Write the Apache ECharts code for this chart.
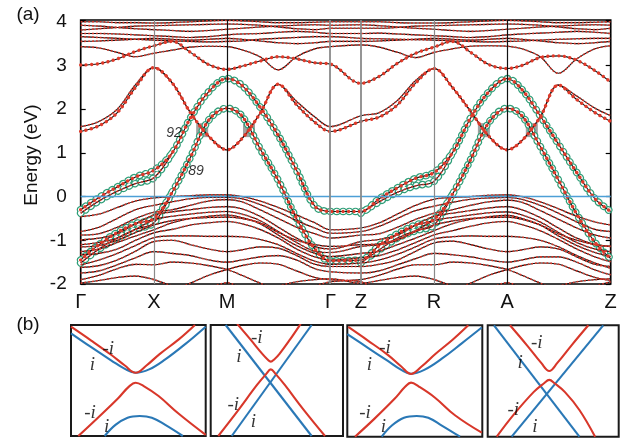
<!DOCTYPE html>
<html>
<head>
<meta charset="utf-8">
<script src="https://cdn.jsdelivr.net/npm/echarts@6/dist/echarts.min.js"></script>
<style>
  html, body { margin: 0; padding: 0; background: #fff; }
  #c { width: 638px; height: 443px; }
</style>
</head>
<body>
<div id="c"></div>
<script>
// ---- k-path: high-symmetry points (cumulative path length, units of 2pi/a) ----
const kLabels = ['Γ', 'X', 'M', 'Γ', 'Z', 'R', 'A', 'Z'];
const kTicks  = [0, 1, 2, 3.414, 3.829, 4.829, 5.829, 7.243];

// k positions at which band energies (eV) are tabulated
const kGrid = [0, 0.25, 0.5, 0.75, 1, 1.25, 1.5, 1.75, 2, 2.2, 2.45, 2.7, 2.95, 3.2, 3.414,
               3.829, 4.079, 4.329, 4.579, 4.829, 5.079, 5.329, 5.579, 5.829, 6.029, 6.279, 6.529, 6.779, 7.029, 7.243];

// ---- upper conduction bands ----
const cbTop1 = [4.0,4.0,3.98,3.98,3.97,3.98,4.0,4.02,4.03,4.02,4.0,3.98,3.98,3.99,4.0, 4.0,4.0,3.98,3.97,3.97,3.98,4.0,4.02,4.03,4.02,4.0,3.98,3.98,3.99,4.0];
const cbTop2 = [3.92,3.9,3.87,3.84,3.82,3.8,3.78,3.8,3.83,3.85,3.88,3.9,3.92,3.93,3.92, 3.93,3.91,3.88,3.85,3.83,3.8,3.78,3.8,3.83,3.85,3.88,3.9,3.92,3.93,3.92];
const cbTop3 = [3.81,3.84,3.87,3.9,3.91,3.92,3.93,3.94,3.95,3.94,3.92,3.88,3.84,3.82,3.85, 3.85,3.85,3.87,3.9,3.91,3.92,3.93,3.94,3.95,3.94,3.92,3.88,3.84,3.82,3.85];
const cbTop4 = [3.73,3.73,3.72,3.7,3.68,3.66,3.64,3.66,3.7,3.72,3.73,3.76,3.78,3.76,3.73, 3.73,3.74,3.72,3.7,3.68,3.66,3.64,3.66,3.7,3.72,3.74,3.76,3.78,3.76,3.73];
const cbTop5 = [3.66,3.64,3.62,3.6,3.58,3.56,3.55,3.54,3.55,3.56,3.6,3.62,3.64,3.66,3.66, 3.62,3.61,3.6,3.59,3.58,3.56,3.55,3.54,3.55,3.56,3.58,3.6,3.61,3.62,3.62];
const cbTop6 = [3.55,3.56,3.58,3.6,3.62,3.6,3.58,3.6,3.62,3.6,3.56,3.52,3.5,3.52,3.55, 3.55,3.56,3.58,3.6,3.62,3.6,3.58,3.6,3.62,3.6,3.56,3.52,3.5,3.52,3.55];
const cbDip  = [3.43,3.4,3.3,3.2,3.28,3.35,3.42,3.44,3.43,3.36,3.2,2.9,3.2,3.38,3.43, 3.47,3.42,3.3,3.18,3.3,3.38,3.44,3.45,3.44,3.38,3.2,2.82,3.15,3.38,3.45];
const cbQ    = [3.01,3.04,3.15,3.32,3.45,3.55,3.3,3.02,2.91,2.98,3.1,3.2,3.15,3.06,3.03, 2.59,2.75,3.05,3.28,3.42,3.55,3.3,3.02,2.93,3.0,3.18,3.22,3.12,2.88,2.62];
const cbP1   = [1.49,1.62,1.92,2.5,2.95,2.6,1.92,1.38,1.07,1.32,1.9,2.57,2.1,1.7,1.49, 1.72,1.82,2.1,2.6,2.93,2.5,1.95,1.38,1.07,1.28,1.82,2.55,2.22,1.92,1.72];
const cbP2   = [1.6,1.72,2.0,2.56,2.95,2.6,1.92,1.38,1.07,1.32,1.9,2.57,2.18,1.82,1.6, 1.85,1.92,2.2,2.66,2.93,2.5,1.95,1.38,1.07,1.28,1.82,2.55,2.3,2.02,1.85];

// ---- projected bands 92 and 89 (and their partners) ----
const band92  = [-0.3,-0.02,0.22,0.45,0.6,1.0,1.8,2.4,2.7,2.55,2.05,1.4,0.6,-0.22,-0.34, -0.34,-0.05,0.2,0.42,0.55,1.0,1.8,2.4,2.7,2.45,1.85,1.2,0.55,-0.05,-0.34];
const band91  = [-0.38,-0.1,0.12,0.3,0.43,1.0,null,null,null,null,null,null,null,null,null, -0.38,-0.12,0.1,0.25,0.35,1.0,null,null,null,null,null,null,null,null,null];
const band89  = [-1.45,-1.1,-0.82,-0.62,-0.5,0.1,0.9,1.75,2.02,1.85,1.1,0.37,-0.5,-1.2,-1.47, -1.45,-1.12,-0.85,-0.65,-0.52,0.05,0.85,1.7,2.02,1.85,1.15,0.38,-0.4,-1.05,-1.42];
const band90  = [-1.52,-1.2,-0.95,-0.75,-0.6,0.1,null,null,null,null,null,null,null,null,null, -1.52,-1.22,-0.95,-0.78,-0.65,0.05,null,null,null,null,null,null,null,null,null];

// ---- valence bands ----
const vb1  = [-0.46,-0.4,-0.25,-0.1,-0.03,0.0,0.02,0.04,0.04,0.0,-0.1,-0.25,-0.42,-0.6,-0.76, -0.72,-0.6,-0.4,-0.2,-0.06,-0.02,0.0,0.03,0.04,0.0,-0.12,-0.28,-0.45,-0.58,-0.65];
const vb2  = [-0.8,-0.7,-0.5,-0.3,-0.2,-0.12,-0.05,-0.02,-0.02,-0.05,-0.18,-0.35,-0.55,-0.72,-0.84, -0.8,-0.68,-0.5,-0.32,-0.22,-0.13,-0.06,-0.03,-0.02,-0.06,-0.2,-0.38,-0.58,-0.75,-0.8];
const vb3  = [-0.88,-0.85,-0.7,-0.5,-0.36,-0.3,-0.2,-0.1,-0.07,-0.12,-0.3,-0.5,-0.7,-0.85,-0.95, -0.88,-0.85,-0.7,-0.52,-0.38,-0.3,-0.2,-0.12,-0.08,-0.13,-0.32,-0.52,-0.72,-0.88,-0.95];
const vb4  = [-0.99,-0.95,-0.85,-0.62,-0.42,-0.35,-0.3,-0.25,-0.23,-0.28,-0.45,-0.7,-0.95,-1.15,-1.2, -1.03,-0.98,-0.88,-0.65,-0.45,-0.38,-0.32,-0.26,-0.23,-0.3,-0.48,-0.72,-0.95,-1.1,-1.14];
const vb5  = [-1.1,-1.05,-0.95,-0.75,-0.53,-0.45,-0.4,-0.36,-0.34,-0.4,-0.55,-0.8,-1.05,-1.25,-1.28, -1.14,-1.1,-1.0,-0.78,-0.55,-0.48,-0.42,-0.37,-0.35,-0.42,-0.58,-0.82,-1.05,-1.2,-1.26];
const vb6  = [-1.26,-1.2,-1.05,-0.9,-0.76,-0.6,-0.5,-0.45,-0.42,-0.48,-0.62,-0.88,-1.12,-1.3,-1.37, -1.3,-1.25,-1.1,-0.95,-0.78,-0.62,-0.52,-0.46,-0.43,-0.5,-0.65,-0.9,-1.12,-1.28,-1.37];
const vb7  = [-1.15,-1.12,-1.0,-0.82,-0.65,-0.55,-0.5,-0.48,-0.47,-0.5,-0.6,-0.82,-1.0,-1.1,-1.14, -1.1,-1.08,-0.98,-0.8,-0.65,-0.56,-0.5,-0.48,-0.47,-0.52,-0.65,-0.85,-1.0,-1.1,-1.14];
const vb8  = [-1.33,-1.3,-1.2,-1.0,-0.83,-0.75,-0.65,-0.6,-0.57,-0.62,-0.75,-0.95,-1.2,-1.38,-1.45, -1.4,-1.35,-1.22,-1.05,-0.88,-0.78,-0.68,-0.6,-0.57,-0.64,-0.78,-0.98,-1.2,-1.38,-1.49];
const vb9  = [-1.56,-1.45,-1.3,-1.12,-0.94,-0.9,-0.9,-0.91,-0.91,-0.92,-0.98,-1.1,-1.3,-1.48,-1.55, -1.52,-1.45,-1.32,-1.15,-0.97,-0.92,-0.9,-0.91,-0.91,-0.93,-1.0,-1.15,-1.35,-1.52,-1.64];
const vb10 = [-1.62,-1.58,-1.45,-1.25,-1.03,-1.0,-1.1,-1.2,-1.26,-1.22,-1.15,-1.18,-1.35,-1.55,-1.6, -1.6,-1.55,-1.45,-1.25,-1.06,-1.02,-1.1,-1.2,-1.26,-1.22,-1.15,-1.2,-1.38,-1.55,-1.6];
const vb11 = [-1.75,-1.7,-1.56,-1.4,-1.26,-1.3,-1.35,-1.45,-1.5,-1.45,-1.38,-1.35,-1.45,-1.65,-1.72, -1.75,-1.7,-1.56,-1.42,-1.3,-1.33,-1.38,-1.45,-1.5,-1.45,-1.38,-1.38,-1.5,-1.68,-1.79];
const vb12 = [-1.9,-1.8,-1.65,-1.55,-1.56,-1.5,-1.52,-1.58,-1.67,-1.8,-1.98,-2.15,-2.2,-2.05,-1.95, -1.9,-1.8,-1.66,-1.56,-1.56,-1.5,-1.52,-1.58,-1.67,-1.8,-1.98,-2.15,-2.2,-2.05,-1.95];
const vb13 = [-2.3,-2.3,-2.25,-2.2,-2.2,-2.15,-1.98,-1.8,-1.67,-1.58,-1.52,-1.55,-1.7,-1.85,-1.9, -1.95,-2.2,-2.3,-2.3,-2.2,-2.15,-1.98,-1.8,-1.67,-1.58,-1.52,-1.55,-1.7,-1.85,-1.92];
const vb14 = [-1.98,-1.92,-1.85,-1.82,-1.9,-2.05,-2.2,-2.1,-1.97,-2.1,-2.2,-2.05,-1.95,-1.9,-1.88, -1.98,-1.92,-1.85,-1.82,-1.9,-2.05,-2.2,-2.1,-1.97,-2.1,-2.2,-2.05,-1.95,-1.9,-1.88];

// band crossings marked with grey squares: [k, E]
const crossings = [[1.66, 1.52], [2.30, 1.52], [5.51, 1.52], [6.165, 1.52]];
// band index labels: [k, E, text]
const bandTags = [[1.275, 1.456, '92'], [1.575, 0.576, '89']];

// ---- panel (b): schematic band pairs, local coords [u, v] in 0..1 ----
const p1RedUp  = [[0,0.985],[0.15,0.86],[0.3,0.73],[0.4,0.635],[0.48,0.57],[0.56,0.635],[0.66,0.74],[0.8,0.87],[0.92,1.0]];
const p1BlueUp = [[0,0.925],[0.15,0.8],[0.3,0.68],[0.4,0.605],[0.48,0.57],[0.58,0.6],[0.7,0.69],[0.85,0.83],[1,0.985]];
const p1RedLo  = [[0.054,0],[0.2,0.165],[0.35,0.34],[0.43,0.445],[0.48,0.48],[0.54,0.45],[0.65,0.36],[0.8,0.2],[1,0.01]];
const p1BlueLo = [[0.25,0],[0.33,0.1],[0.42,0.165],[0.51,0.18],[0.6,0.165],[0.7,0.1],[0.83,0]];

const p2Blue1  = [[0.113,1],[0.763,0]];
const p2Blue2  = [[0.159,0],[0.763,1]];
const p2RedUp  = [[0.2,1.01],[0.3,0.87],[0.39,0.74],[0.43,0.69],[0.454,0.67],[0.48,0.69],[0.52,0.74],[0.6,0.87],[0.68,1.01]];
const p2RedLo  = [[0.057,0],[0.2,0.22],[0.35,0.46],[0.42,0.56],[0.454,0.6],[0.49,0.56],[0.56,0.46],[0.7,0.24],[0.864,0]];

const p3RedUp  = [[0.007,0.985],[0.15,0.865],[0.3,0.735],[0.4,0.63],[0.472,0.563],[0.55,0.63],[0.65,0.74],[0.78,0.87],[0.896,1.0]];
const p3BlueUp = [[0,0.92],[0.15,0.8],[0.3,0.68],[0.4,0.6],[0.472,0.565],[0.57,0.6],[0.7,0.7],[0.85,0.84],[0.996,0.98]];
const p3RedLo  = [[0.057,0],[0.2,0.16],[0.35,0.34],[0.43,0.45],[0.472,0.485],[0.53,0.45],[0.65,0.35],[0.8,0.19],[0.996,0.036]];
const p3BlueLo = [[0.255,0],[0.33,0.1],[0.42,0.17],[0.514,0.186],[0.6,0.17],[0.7,0.1],[0.835,0]];

const p4Blue1  = [[0.048,1],[0.7,0]];
const p4Blue2  = [[0.183,0],[0.882,1]];
const p4RedUp  = [[0.17,1.0],[0.3,0.82],[0.41,0.66],[0.47,0.59],[0.53,0.66],[0.64,0.82],[0.768,1.0]];
const p4RedLo  = [[0.069,0],[0.2,0.2],[0.35,0.4],[0.43,0.48],[0.47,0.51],[0.51,0.48],[0.59,0.4],[0.7,0.24],[0.82,0]];

// parity labels per panel: [u, v, text]
const p1Tags = [[0.277,0.784,'-i'],[0.158,0.64,'i'],[0.141,0.204,'-i'],[0.265,0.078,'i']];
const p2Tags = [[0.348,0.88,'-i'],[0.214,0.714,'i'],[0.171,0.279,'-i'],[0.322,0.129,'i']];
const p3Tags = [[0.279,0.794,'-i'],[0.163,0.644,'i'],[0.131,0.21,'-i'],[0.267,0.084,'i']];
const p4Tags = [[0.374,0.838,'-i'],[0.247,0.659,'i'],[0.195,0.24,'-i'],[0.361,0.09,'i']];

// ---------------------------------------------------------------
const RED = '#d8372a', BLUE = '#2a78b6', GREEN = '#2f9e78';
const onPath = arr => arr.map((e, i) => [kGrid[i], e === null ? '-' : e]);
const series = [];

function pathLine(data, lineStyle, z) {
  return { type: 'line', xAxisIndex: 0, yAxisIndex: 0, data, smooth: 0.35,
           symbol: 'none', lineStyle, z, silent: true, animation: false };
}
// ring chain: round dots of the outer colour, hollowed by smaller white dots on the same dash
const RING_DASH = [0.01, 6.2];
function addBand(arr, opt = {}) {
  const data = onPath(arr);
  if (opt.ring) {
    series.push(pathLine(data, { color: GREEN, width: 7.6, type: RING_DASH, cap: 'round' }, 1));
    series.push(pathLine(data, { color: '#ffffff', width: 5.2, type: RING_DASH, cap: 'round' }, 2));
  }
  series.push(pathLine(data, { color: '#141414', width: 1.1 }, 3));
  series.push(pathLine(data, opt.bold
    ? { color: '#e03a2a', width: 3.4, type: [0.01, 5.5], cap: 'round' }
    : { color: RED, width: 1.6, type: [1.8, 2.0] }, 4));
}

[cbTop1, cbTop2, cbTop3, cbTop4, cbTop5, cbTop6, cbDip, cbP2,
 vb1, vb2, vb3, vb4, vb5, vb6, vb7, vb8, vb9, vb10, vb11, vb12, vb13, vb14].forEach(b => addBand(b));
addBand(cbQ, { bold: true });
addBand(cbP1, { bold: true });
addBand(band91, { ring: true });
addBand(band90, { ring: true });
addBand(band92, { ring: true, bold: true });
addBand(band89, { ring: true, bold: true });

// guide lines: Fermi level, high-symmetry verticals, crossing squares
const vColors = ['#8a8a8a', '#111111', '#8a8a8a', '#8a8a8a', '#8a8a8a', '#111111'];
series.push({
  type: 'line', xAxisIndex: 0, yAxisIndex: 0, data: [], z: 2.5, silent: true, animation: false,
  markLine: {
    symbol: ['none', 'none'], silent: true, animation: false, label: { show: false },
    data: [
      { yAxis: 0, lineStyle: { color: '#4d9fd6', width: 1.4, type: 'solid' } },
      ...kTicks.slice(1, -1).map((k, i) => ({ xAxis: k, lineStyle: { color: vColors[i], width: i === 2 || i === 3 ? 1.8 : 1.2, type: 'solid' } }))
    ]
  },
  markArea: {
    silent: true, animation: false,
    itemStyle: { color: 'rgba(128,128,128,0.75)' },
    data: crossings.map(([k, e]) => [{ coord: [k - 0.082, e - 0.16] }, { coord: [k + 0.082, e + 0.16] }])
  }
});
series.push({
  type: 'scatter', xAxisIndex: 0, yAxisIndex: 0, symbolSize: 0, z: 6, silent: true, animation: false,
  data: bandTags.map(([k, e, t]) => ({ value: [k, e], name: t })),
  label: { show: true, position: 'inside', formatter: p => p.name, fontSize: 14, fontStyle: 'italic',
           color: '#000', fontFamily: 'Liberation Sans' }
});

// panel (b) grids
const panels = [
  { box: { left: 71, top: 325, width: 134.7, height: 111 }, red: [p1RedUp, p1RedLo], blue: [p1BlueUp, p1BlueLo], tags: p1Tags },
  { box: { left: 210.7, top: 325, width: 132.3, height: 111 }, red: [p2RedUp, p2RedLo], blue: [p2Blue1, p2Blue2], tags: p2Tags },
  { box: { left: 347.3, top: 325.3, width: 135, height: 111.4 }, red: [p3RedUp, p3RedLo], blue: [p3BlueUp, p3BlueLo], tags: p3Tags },
  { box: { left: 487.7, top: 325.3, width: 131, height: 111.4 }, red: [p4RedUp, p4RedLo], blue: [p4Blue1, p4Blue2], tags: p4Tags }
];

const grids = [{ left: 80.7, top: 20, width: 530, height: 264, show: true, borderColor: '#000', borderWidth: 1.7, backgroundColor: 'transparent' }];
const xAxes = [{
  gridIndex: 0, type: 'value', min: 0, max: kTicks[kTicks.length - 1],
  axisLine: { show: false }, axisTick: { show: false }, splitLine: { show: false },
  axisLabel: {
    customValues: kTicks, margin: 8, fontSize: 20, color: '#111', fontFamily: 'Liberation Sans',
    formatter: v => { const i = kTicks.findIndex(t => Math.abs(t - v) < 1e-6); return i < 0 ? '' : kLabels[i]; }
  }
}];
const yFmt = v => Math.abs(v - Math.round(v)) < 1e-6 ? String(Math.round(v)) : '';
const yAxes = [
  { gridIndex: 0, type: 'value', min: -2, max: 4.04, interval: 1, position: 'left',
    axisLine: { show: false }, splitLine: { show: false },
    axisTick: { inside: true, length: 5, lineStyle: { color: '#000', width: 1.2 } },
    axisLabel: { formatter: yFmt, fontSize: 19, color: '#111', margin: 14, fontFamily: 'Liberation Sans' } },
  { gridIndex: 0, type: 'value', min: -2, max: 4.04, interval: 1, position: 'right',
    axisLine: { show: false }, splitLine: { show: false },
    axisTick: { inside: true, length: 5, lineStyle: { color: '#000', width: 1.2 } },
    axisLabel: { show: false } }
];

panels.forEach((p, n) => {
  const gi = n + 1;
  grids.push(Object.assign({ show: true, borderColor: '#1a1a1a', borderWidth: 2, backgroundColor: 'transparent' }, p.box));
  xAxes.push({ gridIndex: gi, type: 'value', min: 0, max: 1, show: false });
  yAxes.push({ gridIndex: gi, type: 'value', min: 0, max: 1, show: false });
  const axIdx = { xAxisIndex: gi, yAxisIndex: yAxes.length - 1 };
  const curve = (data, color) => Object.assign({ type: 'line', data, smooth: 0.4, symbol: 'none',
    lineStyle: { color, width: 2.1 }, z: 3, silent: true, animation: false }, axIdx);
  p.blue.forEach(d => series.push(curve(d, BLUE)));
  p.red.forEach(d => series.push(curve(d, RED)));
  series.push(Object.assign({
    type: 'scatter', symbolSize: 0, z: 6, silent: true, animation: false,
    data: p.tags.map(([u, v, t]) => ({ value: [u, v], name: t })),
    label: { show: true, position: 'inside', formatter: q => q.name, fontSize: 19, fontStyle: 'italic',
             color: '#000', fontFamily: 'Liberation Serif' }
  }, axIdx));
});

const chart = echarts.init(document.getElementById('c'), null, { renderer: 'canvas' });
chart.setOption({
  animation: false,
  backgroundColor: '#fff',
  textStyle: { fontFamily: 'Liberation Sans' },
  grid: grids, xAxis: xAxes, yAxis: yAxes, series,
  graphic: [
    { type: 'text', x: 28, y: 15, style: { text: '(a)', font: '19px "Liberation Sans"', fill: '#111',
      align: 'center', verticalAlign: 'middle', textAlign: 'center', textVerticalAlign: 'middle' } },
    { type: 'text', x: 28, y: 325, style: { text: '(b)', font: '19px "Liberation Sans"', fill: '#111',
      align: 'center', verticalAlign: 'middle', textAlign: 'center', textVerticalAlign: 'middle' } },
    { type: 'text', x: 32, y: 155, rotation: Math.PI / 2, style: { text: 'Energy (eV)', font: '19px "Liberation Sans"', fill: '#111',
      align: 'center', verticalAlign: 'middle', textAlign: 'center', textVerticalAlign: 'middle' } }
  ]
});
</script>
</body>
</html>
